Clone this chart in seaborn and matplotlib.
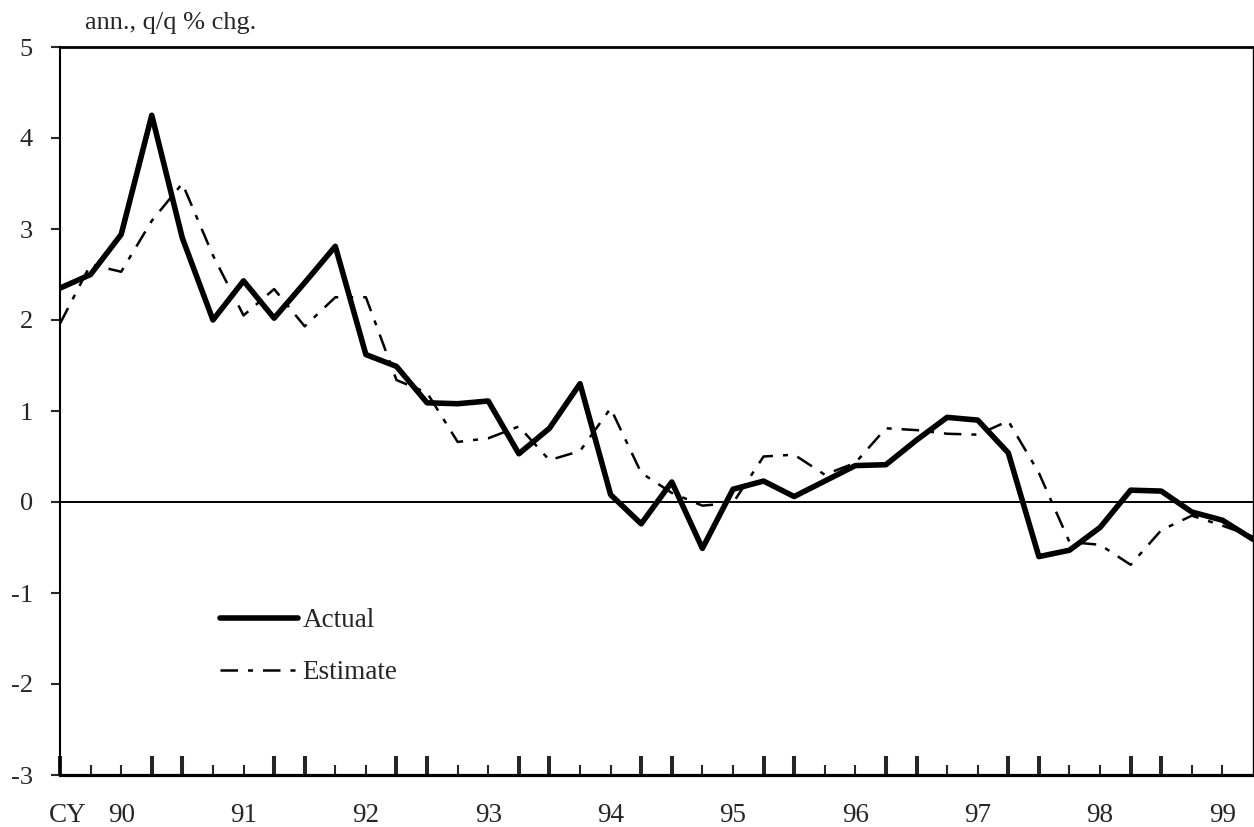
import numpy as np
import pandas as pd
import matplotlib
matplotlib.use("Agg")
import matplotlib.pyplot as plt
import seaborn as sns

# quarterly data, 1990Q1 .. 1999Q4 (ann., q/q % chg.)
quarter = np.arange(40)
actual = [2.35, 2.50, 2.94, 4.25, 2.90, 2.00, 2.43, 2.02, 2.41, 2.81,
          1.62, 1.49, 1.09, 1.08, 1.11, 0.53, 0.81, 1.30, 0.08, -0.24,
          0.22, -0.51, 0.14, 0.23, 0.06, 0.23, 0.40, 0.41, 0.68, 0.93,
          0.90, 0.54, -0.60, -0.53, -0.28, 0.13, 0.12, -0.11, -0.20, -0.41]
estimate = [1.96, 2.61, 2.53, 3.09, 3.50, 2.71, 2.05, 2.34, 1.93, 2.25,
            2.25, 1.34, 1.20, 0.66, 0.70, 0.83, 0.46, 0.56, 1.03, 0.32,
            0.10, -0.04, -0.01, 0.50, 0.52, 0.30, 0.43, 0.81, 0.79, 0.75,
            0.74, 0.89, 0.32, -0.44, -0.47, -0.69, -0.31, -0.15, -0.26, -0.38]

year_labels = ["90", "91", "92", "93", "94", "95", "96", "97", "98", "99"]
year_pos = [2, 6, 10, 14, 18, 22, 26, 30, 34, 38]
big_ticks = [0, 3, 4, 7, 8, 11, 12, 15, 16, 19, 20, 23, 24, 27, 28, 31, 32, 35, 36]
small_ticks = [q for q in range(39) if q not in big_ticks]

df = pd.DataFrame({"q": quarter, "Actual": actual, "Estimate": estimate})

sns.set_style("white")
plt.rcParams["font.family"] = ["Liberation Serif", "DejaVu Serif"]
plt.rcParams["axes.unicode_minus"] = False

fig = plt.figure(figsize=(12.54, 8.27), dpi=100)
ax = fig.add_axes([60 / 1254, 1 - 775 / 827, 1193 / 1254, 728 / 827])

ax.axhline(0, color="black", lw=1.4, zorder=1)
sns.lineplot(data=df, x="q", y="Actual", ax=ax, color="black", lw=4,
             label="Actual", zorder=3)
sns.lineplot(data=df, x="q", y="Estimate", ax=ax, color="black", lw=1.8,
             label="Estimate", zorder=2)
ax.lines[-1].set_linestyle((0, (7, 4, 2, 4)))

ax.set_xlim(0, 39)
ax.set_ylim(-3, 5)
ax.set_xlabel("")
ax.set_ylabel("")

ax.set_yticks(range(-3, 6))
ax.tick_params(axis="y", direction="out", length=6.5, width=1.5,
               pad=13, labelsize=19, left=True)

ax.set_xticks(big_ticks)
ax.set_xticks(small_ticks, minor=True)
ax.set_xticklabels([])
ax.tick_params(axis="x", which="major", direction="in", length=14,
               width=2.9, bottom=True)
ax.tick_params(axis="x", which="minor", direction="in", length=7,
               width=1.5, bottom=True)

for lab, pos in zip(year_labels, year_pos):
    ax.text(pos, -0.055, lab, transform=ax.get_xaxis_transform(),
            ha="center", va="center", fontsize=19.5)
ax.text(0.25, -0.055, "CY", transform=ax.get_xaxis_transform(),
        ha="center", va="center", fontsize=19.5)

for side, w in [("left", 1.5), ("bottom", 2.3), ("top", 2.0), ("right", 1.0)]:
    ax.spines[side].set_visible(True)
    ax.spines[side].set_color("black")
    ax.spines[side].set_linewidth(w)

fig.text(85 / 1254, 1 - 23 / 827, "ann., q/q % chg.", ha="left",
         va="center", fontsize=19)

leg = ax.legend(loc="upper left", bbox_to_anchor=(0.134, 0.229),
                frameon=False, fontsize=19.5, handlelength=2.9,
                handletextpad=0.15, labelspacing=1.0, borderpad=0,
                borderaxespad=0)

fig.savefig("out.png", dpi=100)
